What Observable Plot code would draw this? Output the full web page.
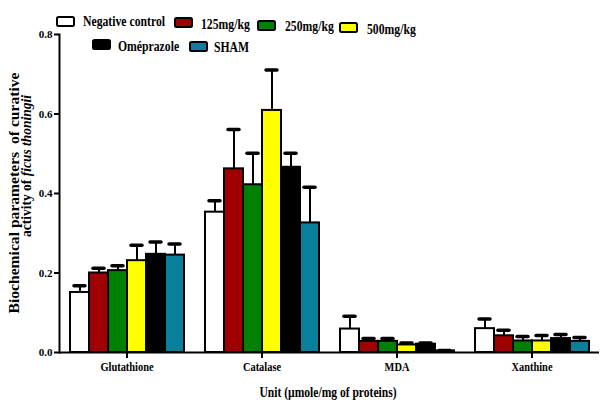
<!DOCTYPE html>
<html>
<head>
<meta charset="utf-8">
<script src="https://cdn.jsdelivr.net/npm/d3@7"></script>
<script src="https://cdn.jsdelivr.net/npm/@observablehq/plot@0.6"></script>
<style>
  body { margin: 0; background: #fff; }
  #chart { position: relative; width: 600px; height: 400px; }
</style>
</head>
<body>
<div id="chart"></div>
<script>
// ---- data ----
const categories = ["Glutathione", "Catalase", "MDA", "Xanthine"];
const series = ["Negative control", "125mg/kg", "250mg/kg", "500mg/kg", "Oméprazole", "SHAM"];
const colors = ["#ffffff", "#a00000", "#008000", "#ffff00", "#000000", "#0a7f9b"];

// mean values per category (order = series)
const glutathione = [0.151, 0.200, 0.206, 0.231, 0.247, 0.245];
const catalase    = [0.353, 0.462, 0.422, 0.609, 0.466, 0.326];
const mda         = [0.059, 0.028, 0.028, 0.019, 0.021, 0.004];
const xanthine    = [0.060, 0.042, 0.029, 0.029, 0.035, 0.028];

// upper error (SEM) per category
const glutathioneErr = [0.017, 0.012, 0.012, 0.039, 0.031, 0.028];
const catalaseErr    = [0.029, 0.099, 0.079, 0.102, 0.035, 0.090];
const mdaErr         = [0.032, 0.007, 0.007, 0.005, 0.003, 0.001];
const xanthineErr    = [0.024, 0.014, 0.011, 0.014, 0.010, 0.010];

const yTicks = [0, 0.2, 0.4, 0.6, 0.8];

const values = [glutathione, catalase, mda, xanthine];
const errors = [glutathioneErr, catalaseErr, mdaErr, xanthineErr];
const rows = [];
categories.forEach((c, i) => series.forEach((s, j) => rows.push({category: c, series: s, value: values[i][j], top: values[i][j] + errors[i][j]})));

const FONT = "'Liberation Serif', 'Times New Roman', serif";

const chart = Plot.plot({
  width: 600,
  height: 400,
  marginLeft: 57,
  marginRight: 0,
  marginTop: 34,
  marginBottom: 48,
  style: {fontFamily: FONT, fontWeight: "bold", fontSize: "11px", color: "#000", background: "#fff"},
  fx: {domain: categories, padding: 0},
  x: {domain: series, paddingInner: 0, paddingOuter: 0.51, axis: null},
  y: {domain: [0, 0.8]},
  color: {domain: series, range: colors},
  marks: [
    Plot.ruleX(rows, {fx: "category", x: "series", y1: "value", y2: "top", stroke: "#000", strokeWidth: 2}),
    Plot.barY(rows, {fx: "category", x: "series", y: "value", fill: "series", stroke: "#000", strokeWidth: 2}),
    Plot.tickY(rows, {fx: "category", x: "series", y: "top", stroke: "#000", strokeWidth: 3.5, insetLeft: 4, insetRight: 4, strokeLinecap: "round"}),
    Plot.ruleY([0], {stroke: "#000", strokeWidth: 2}),
    Plot.frame({anchor: "left", facetAnchor: "left", stroke: "#000", strokeWidth: 2}),
    Plot.axisY({anchor: "left", ticks: yTicks, tickFormat: d => d.toFixed(1), tickSize: 5, tickPadding: 2, strokeWidth: 2, fontSize: 11, label: null}),
    Plot.axisFx({anchor: "bottom", tickSize: 6, tickPadding: 3, strokeWidth: 2, fontSize: 13, label: null})
  ]
});
document.getElementById("chart").appendChild(chart);

const svg = d3.select(chart);

function condense(node, factor) {
  const len = node.getComputedTextLength();
  node.setAttribute("textLength", (len * factor).toFixed(1));
  node.setAttribute("lengthAdjust", "spacingAndGlyphs");
}

// condense category labels like the reference's narrow type
svg.selectAll('g[aria-label="fx-axis tick label"] text').each(function() { condense(this, 0.8); });

// x axis title
const xt = svg.append("text")
  .attr("x", 328).attr("y", 397)
  .attr("text-anchor", "middle")
  .style("font-family", FONT).style("font-weight", "bold").style("font-size", "14px")
  .text("Unit (µmole/mg of proteins)");
xt.attr("textLength", 137).attr("lengthAdjust", "spacingAndGlyphs");

// y axis title (two lines)
const yt1 = svg.append("text")
  .attr("transform", "translate(19,193) rotate(-90)")
  .attr("text-anchor", "middle")
  .style("font-family", FONT).style("font-weight", "bold").style("font-size", "14px")
  .text("Biochemical parameters  of curative");
yt1.attr("textLength", 241).attr("lengthAdjust", "spacingAndGlyphs");

const yt2 = svg.append("text")
  .attr("transform", "translate(31,166) rotate(-90)")
  .attr("text-anchor", "middle")
  .style("font-family", FONT).style("font-weight", "bold").style("font-size", "14px");
yt2.append("tspan").text("activity of ");
yt2.append("tspan").style("font-style", "italic").text("ficus thoningii");
yt2.attr("textLength", 142).attr("lengthAdjust", "spacingAndGlyphs");

// legend (layout only; labels and colours from the series arrays)
const legendLayout = [
  {sx: 57,  sy: 17, tx: 83,  ty: 26},
  {sx: 175, sy: 18, tx: 201, ty: 29},
  {sx: 258, sy: 21, tx: 285, ty: 31},
  {sx: 340, sy: 23, tx: 367, ty: 34},
  {sx: 93,  sy: 40, tx: 118, ty: 51},
  {sx: 190, sy: 42, tx: 214, ty: 52}
];
const lg = svg.append("g").attr("text-anchor", "start");
series.forEach((s, i) => {
  const L = legendLayout[i];
  lg.append("rect")
    .attr("x", L.sx).attr("y", L.sy).attr("width", 17).attr("height", 9).attr("rx", 1.5)
    .attr("fill", colors[i]).attr("stroke", "#000").attr("stroke-width", 2);
  const t = lg.append("text")
    .attr("x", L.tx).attr("y", L.ty)
    .attr("text-anchor", "start")
    .style("font-family", FONT).style("font-weight", "bold").style("font-size", "15px")
    .text(s);
  condense(t.node(), 0.78);
});
</script>
</body>
</html>
